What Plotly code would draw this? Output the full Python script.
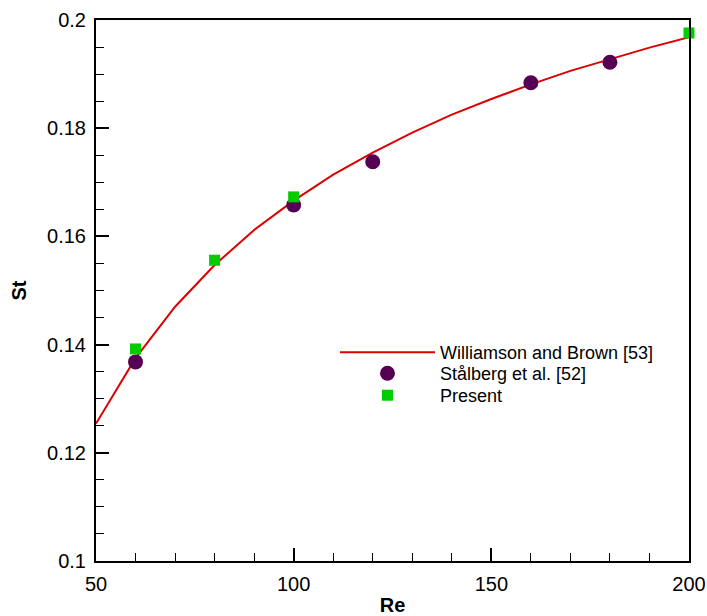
import plotly.graph_objects as go

# Williamson and Brown [53] curve
wb_re = [50, 60, 70, 80, 90, 100, 110, 120, 130, 140, 150, 160, 170, 180, 190, 200]
wb_st = [0.1254, 0.1375, 0.1470, 0.1547, 0.1612, 0.1666, 0.1714, 0.1755, 0.1792,
         0.1825, 0.1854, 0.1881, 0.1906, 0.1928, 0.1949, 0.1968]

# Stålberg et al. [52]
st_re = [60, 100, 120, 160, 180]
st_st = [0.1368, 0.1658, 0.1738, 0.1884, 0.1922]

# Present
pr_re = [60, 80, 100, 200]
pr_st = [0.1392, 0.1556, 0.1673, 0.1976]

x_ticks = [50, 100, 150, 200]
x_ticktext = ["50", "100", "150", "200"]
y_ticks = [0.1, 0.12, 0.14, 0.16, 0.18, 0.2]
y_ticktext = ["0.1", "0.12", "0.14", "0.16", "0.18", "0.2"]

font = "Liberation Sans, Arial, Helvetica, sans-serif"

fig = go.Figure()
fig.add_trace(go.Scatter(x=wb_re, y=wb_st, mode="lines", name="Williamson and Brown [53]",
                         line=dict(color="#dd0000", width=2), legend="legend", showlegend=True))
fig.add_trace(go.Scatter(x=st_re, y=st_st, mode="markers", name="Stålberg et al. [52]",
                         marker=dict(symbol="circle", size=15, color="#550055"),
                         legend="legend2", showlegend=True))
fig.add_trace(go.Scatter(x=pr_re, y=pr_st, mode="markers", name="Present",
                         marker=dict(symbol="square", size=11, color="#00cc00"),
                         cliponaxis=False, legend="legend3", showlegend=True))

axis_common = dict(
    showline=True, linecolor="black", linewidth=2, mirror=True,
    ticks="inside", ticklen=13, tickwidth=2, tickcolor="black",
    showgrid=False, zeroline=False, automargin=False,
    tickfont=dict(family=font, size=20, color="black"),
)

fig.update_xaxes(range=[50, 200], tickvals=x_ticks, ticktext=x_ticktext,
                 minor=dict(dtick=10, ticks="inside", ticklen=8, tickwidth=1, tickcolor="black", showgrid=False),
                 title=dict(text="<b>Re</b>", font=dict(family=font, size=20, color="black")),
                 ticklabelstandoff=4,
                 **axis_common)
fig.update_yaxes(range=[0.1, 0.2], tickvals=y_ticks, ticktext=y_ticktext,
                 minor=dict(dtick=0.005, ticks="inside", ticklen=8, tickwidth=1, tickcolor="black", showgrid=False),
                 title=dict(text="<b>St</b>", font=dict(family=font, size=20, color="black")),
                 ticklabelstandoff=4,
                 **axis_common)

leg_common = dict(x=0.403, xanchor="left", yanchor="top", bgcolor="rgba(0,0,0,0)",
                  itemwidth=95, font=dict(family=font, size=18, color="black"))

fig.update_layout(
    width=707, height=616,
    margin=dict(l=96, r=18, t=20, b=55, autoexpand=False),
    plot_bgcolor="white", paper_bgcolor="white",
    font=dict(family=font, color="black"),
    showlegend=True,
    legend=dict(y=0.4196, **leg_common),
    legend2=dict(y=0.3808, **leg_common),
    legend3=dict(y=0.3401, **leg_common),
)

fig.write_html("out.html")
